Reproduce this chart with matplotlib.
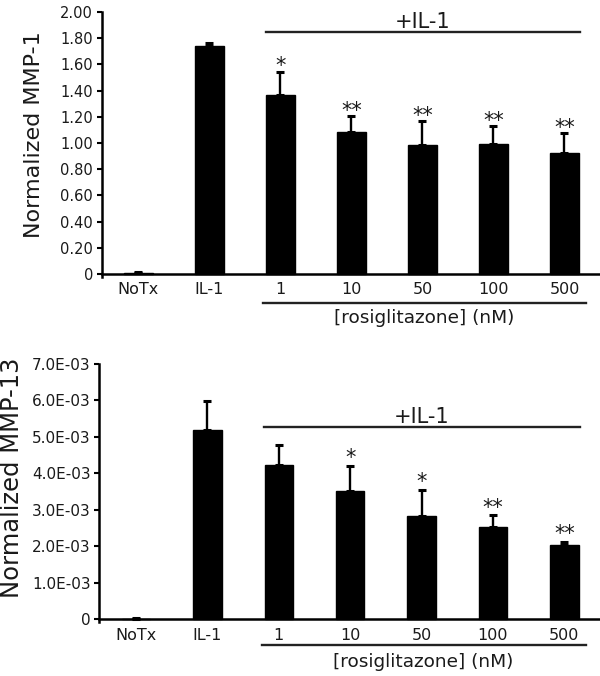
import matplotlib
matplotlib.use("Agg")
import matplotlib.pyplot as plt
import numpy as np

plt.rcParams['font.family'] = ['DejaVu Sans']

categories = ["NoTx", "IL-1", "1", "10", "50", "100", "500"]

mmp1_means = [0.008, 1.74, 1.37, 1.085, 0.985, 0.99, 0.925]
mmp1_err = [0.005, 0.025, 0.175, 0.12, 0.18, 0.14, 0.15]
mmp1_stars = ["", "", "*", "**", "**", "**", "**"]
mmp1_ticks = [0, 0.2, 0.4, 0.6, 0.8, 1.0, 1.2, 1.4, 1.6, 1.8, 2.0]
mmp1_ticklabels = ["0", "0.20", "0.40", "0.60", "0.80", "1.00", "1.20", "1.40", "1.60", "1.80", "2.00"]

mmp13_means = [0.00002, 0.00519, 0.00422, 0.00353, 0.00283, 0.00254, 0.00205]
mmp13_err = [0.00001, 0.00080, 0.00055, 0.00068, 0.00072, 0.00031, 0.00008]
mmp13_stars = ["", "", "", "*", "*", "**", "**"]
mmp13_ticks = [0, 1e-3, 2e-3, 3e-3, 4e-3, 5e-3, 6e-3, 7e-3]
mmp13_ticklabels = ["0", "1.0E-03", "2.0E-03", "3.0E-03", "4.0E-03", "5.0E-03", "6.0E-03", "7.0E-03"]

ylabel1 = "Normalized MMP-1"
ylabel13 = "Normalized MMP-13"
group_label = "+IL-1"
conc_label = "[rosiglitazone] (nM)"

W, H = 600, 676
fig = plt.figure(figsize=(W / 100, H / 100), dpi=100)

TXT = '#1a1a1a'


def make_axes(left_px, y0_px, ymax_px, ymax, lo_frac):
    ylo = -ymax * lo_frac
    h = (y0_px - ymax_px) * (ymax - ylo) / ymax
    bottom_px = ymax_px + h
    ax = fig.add_axes([left_px / W, 1 - bottom_px / H, 1 - left_px / W, h / H])
    ax.set_ylim(ylo, ymax)
    return ax


def panel(ax, means, errs, stars, ticks, ticklabels, ylabel, ylsize, ytsize, lab_x, lab_y,
          line_y, text_y, bracket_y, conc_y, star_gap):
    x = np.arange(len(categories))
    ax.bar(x, means, width=0.40, color='black', edgecolor='black', zorder=2)
    ax.errorbar(x, means, yerr=[np.zeros(len(errs)), errs], fmt='none',
                ecolor='black', elinewidth=1.7, capsize=3.0, capthick=2.2, zorder=3)
    ax.set_xlim(-0.52, 6.5)
    ax.spines['bottom'].set_position(('data', 0))
    for s in ['top', 'right']:
        ax.spines[s].set_visible(False)
    for s in ['left', 'bottom']:
        ax.spines[s].set_linewidth(1.8)
    ax.set_yticks(ticks)
    ax.set_yticklabels(ticklabels)
    ax.set_xticks(x)
    ax.set_xticklabels(categories)
    ax.tick_params(axis='y', direction='out', length=3.6, width=1.5, labelsize=ytsize,
                   labelcolor=TXT, pad=2.5)
    ax.tick_params(axis='x', length=0, labelsize=11.5, labelcolor=TXT, pad=6)
    ax.set_ylabel(ylabel, fontsize=ylsize, color=TXT)
    ax.yaxis.set_label_coords(lab_x, lab_y)
    for xi, m, e, s in zip(x, means, errs, stars):
        if s:
            ax.text(xi, m + e + star_gap, s, ha='center', va='bottom', fontsize=15,
                    color=TXT)
    ax.plot([1.79, 6.22], [line_y, line_y], color='#222222', lw=1.7, clip_on=False)
    ax.text(4.0, text_y, group_label, ha='center', va='center', fontsize=15, color=TXT)
    ax.plot([1.76, 6.30], [bracket_y, bracket_y], color='#222222', lw=1.7, clip_on=False)
    ax.text(4.02, conc_y, conc_label, ha='center', va='center', fontsize=13.3, color=TXT)


ax1 = make_axes(101.5, 274, 12, 2.0, 0.012)
panel(ax1, mmp1_means, mmp1_err, mmp1_stars, mmp1_ticks, mmp1_ticklabels, ylabel1,
      16, 10.5, -0.115, 0.538, 1.85, 1.92, -0.221, -0.336, -0.035)

ax2 = make_axes(99, 619.3, 364, 7e-3, 0.012)
panel(ax2, mmp13_means, mmp13_err, mmp13_stars, mmp13_ticks, mmp13_ticklabels, ylabel13,
      17.5, 11, -0.150, 0.561, 5.26e-3, 5.56e-3, -0.705e-3, -1.16e-3, -0.07e-3)

fig.savefig("out.png", dpi=100)
